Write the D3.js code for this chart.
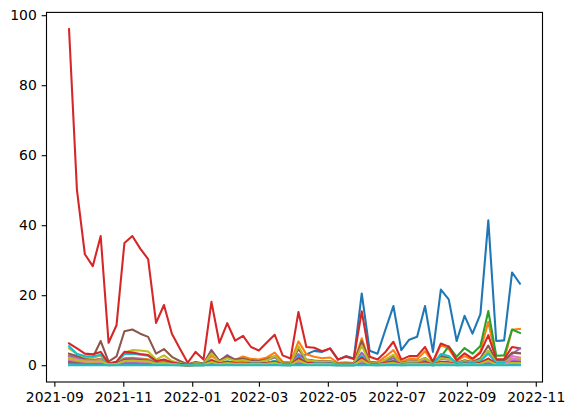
<!DOCTYPE html>
<html>
<head>
<meta charset="utf-8">
<script src="https://cdn.jsdelivr.net/npm/d3@7"></script>
<style>
  body { margin: 0; background: #fff; }
  svg { display: block; font-family: 'DejaVu Sans', sans-serif; }
</style>
</head>
<body>
<svg id="chart" width="574" height="416"></svg>
<script>
// weekly observations (Tuesdays), first one on 2021-09-14
const startDate = '2021-09-14';
const weeks = 58;

const s01 = [1.0,0.8,0.6,0.5,0.7,0.2,0.4,1.5,1.8,1.6,1.4,0.6,0.8,0.5,0.3,0.1,0.4,0.2,1.2,0.5,0.9,0.6,0.7,0.5,0.4,0.6,1.2,0.4,0.3,2.2,3.1,4.1,3.8,4.8,1.6,2.6,1.9,20.5,4.1,3.3,10.2,16.9,4.3,7.3,8.1,16.9,3.8,21.6,18.8,6.9,14.1,9.0,14.6,41.4,6.9,7.1,26.5,23.3];
const s02 = [2.8,2.2,1.6,1.5,1.8,0.3,0.6,2.0,2.1,1.9,1.7,0.7,1.1,0.6,0.3,0.1,0.5,0.3,2.6,1.2,2.2,1.6,2.5,1.8,1.6,2.2,3.6,1.0,0.8,6.8,3.1,2.4,2.0,2.2,0.7,0.8,0.6,7.7,1.0,0.8,2.5,4.3,0.9,1.8,1.7,4.0,0.7,5.9,4.6,1.2,2.6,1.5,4.0,12.4,1.6,1.5,10.1,10.4];
const s03 = [0.8,0.6,0.4,0.4,0.6,0.1,0.2,0.7,0.8,0.7,0.6,0.3,0.4,0.2,0.1,0.0,0.1,0.1,0.6,0.2,0.4,0.3,0.3,0.2,0.2,0.3,0.5,0.1,0.1,1.0,0.4,0.3,0.3,0.3,0.1,0.2,0.1,1.1,0.2,0.2,0.4,0.8,0.2,0.3,0.3,0.6,1.0,2.4,5.4,2.4,4.9,3.3,5.5,15.5,2.7,2.8,10.2,9.2];
const s04 = [96.0,50.0,31.7,28.3,36.9,6.4,11.4,34.9,36.9,33.3,30.3,12.1,17.2,9.0,4.8,0.7,3.8,1.6,18.1,6.4,12.0,7.0,8.4,5.2,4.2,6.5,8.7,2.8,1.9,15.2,5.2,5.0,4.0,4.8,1.6,2.4,1.8,15.4,2.4,1.6,3.8,6.7,1.6,2.6,2.6,5.2,1.0,6.2,5.3,1.4,3.4,1.9,3.5,8.6,1.7,1.7,5.2,4.8];
const s05 = [2.6,2.0,1.5,1.4,1.7,0.3,0.5,1.8,1.9,1.7,1.5,0.6,0.9,0.5,0.3,0.1,0.6,0.3,4.4,1.1,2.9,1.5,1.6,1.1,1.0,1.4,2.2,0.6,0.5,3.2,1.4,1.1,0.9,1.0,0.3,0.4,0.4,3.6,0.6,0.5,1.2,2.0,0.4,0.8,0.8,1.6,0.3,1.8,1.6,0.5,1.1,0.7,1.4,3.6,0.8,0.8,3.2,4.8];
const s06 = [3.3,2.6,2.0,2.2,6.9,1.0,2.5,9.7,10.2,9.0,8.1,3.3,4.6,2.4,1.2,0.3,0.9,0.5,4.1,1.3,2.6,1.6,1.9,1.3,1.2,1.7,2.6,0.7,0.6,4.6,1.6,1.3,1.1,1.2,0.4,0.5,0.4,6.9,0.8,0.6,1.6,2.7,0.6,1.1,1.1,2.1,0.4,2.5,2.2,0.6,1.4,0.9,2.0,5.6,1.2,1.2,3.6,3.4];
const s07 = [2.2,1.7,1.3,1.2,1.5,0.2,0.4,1.6,1.7,1.5,1.3,0.5,0.8,0.4,0.2,0.1,0.3,0.2,1.2,0.4,0.8,0.5,0.6,0.4,0.4,0.5,0.9,0.2,0.2,1.8,0.6,0.5,0.4,0.5,0.2,0.2,0.2,1.9,0.3,0.2,0.6,1.0,0.2,0.4,0.4,0.8,0.1,0.9,0.8,0.2,0.5,0.3,0.7,1.8,0.4,0.4,2.6,2.2];
const s08 = [1.8,1.4,1.0,1.0,1.2,0.2,0.3,1.3,1.4,1.2,1.1,0.4,0.6,0.3,0.2,0.0,0.2,0.1,1.0,0.3,0.6,0.4,0.5,0.3,0.3,0.4,0.8,0.2,0.1,1.5,0.5,0.4,0.3,0.4,0.1,0.2,0.1,1.6,0.2,0.2,0.5,0.8,0.2,0.3,0.3,0.6,0.1,0.7,0.6,0.2,0.4,0.2,0.6,1.5,0.3,0.3,1.2,1.0];
const s09 = [4.8,3.2,2.3,2.1,2.8,0.4,1.0,3.6,4.3,4.2,3.9,1.6,2.8,1.2,0.6,0.1,0.6,0.3,3.4,0.9,2.0,1.2,1.5,1.0,0.9,1.4,2.6,0.5,0.5,5.4,1.5,1.2,1.0,1.1,0.3,0.4,0.3,5.6,0.6,0.5,1.6,3.0,0.5,1.0,1.0,2.0,0.3,2.0,1.7,0.5,1.2,0.7,1.5,4.2,0.8,0.8,2.0,1.8];
const s10 = [5.4,3.2,2.6,2.5,3.0,0.4,0.7,3.2,3.3,3.0,2.7,1.0,1.5,0.8,0.4,0.1,0.4,0.2,1.6,0.5,1.1,0.7,0.8,0.6,0.5,0.7,1.2,0.3,0.2,2.4,0.8,0.6,0.5,0.6,0.2,0.3,0.2,2.6,0.4,0.3,0.8,1.3,0.3,0.5,0.5,1.0,0.2,3.2,2.6,0.4,1.0,0.6,1.2,3.3,0.6,0.6,1.6,1.4];
const s11 = [1.4,1.1,0.8,0.8,0.9,0.1,0.3,1.0,1.1,1.0,0.9,0.3,0.5,0.3,0.1,0.0,0.2,0.1,0.8,0.2,0.5,0.3,0.4,0.3,0.3,0.4,0.6,0.1,0.1,1.2,0.4,0.3,0.3,0.3,0.1,0.1,0.1,1.3,0.2,0.1,0.4,0.6,0.1,0.3,0.3,0.5,0.1,0.5,0.4,0.1,0.3,0.2,0.4,1.1,0.2,0.2,0.7,0.6];
const s12 = [0.9,0.7,0.5,0.5,0.6,0.1,0.2,0.7,0.7,0.6,0.6,0.2,0.3,0.2,0.1,0.0,0.1,0.1,0.5,0.1,0.3,0.2,0.3,0.2,0.2,0.3,0.4,0.1,0.1,0.9,0.3,0.2,0.2,0.2,0.1,0.1,0.1,0.9,0.1,0.1,0.3,0.5,0.1,0.2,0.2,0.4,0.1,0.4,0.3,0.1,0.2,0.1,0.3,0.9,0.1,0.1,0.5,0.5];
const s13 = [0.6,0.5,0.4,0.4,0.4,0.1,0.1,0.5,0.5,0.4,0.4,0.1,0.2,0.1,0.1,0.0,0.1,0.0,0.3,0.1,0.2,0.1,0.2,0.1,0.1,0.2,0.3,0.1,0.0,0.6,0.2,0.1,0.1,0.1,0.0,0.1,0.0,0.6,0.1,0.1,0.2,0.3,0.1,0.1,0.1,0.3,0.0,0.3,0.2,0.1,0.2,0.1,0.2,0.6,0.1,0.1,0.4,0.3];
const s14 = [6.2,4.8,3.3,3.1,3.8,0.5,1.0,3.8,3.6,3.2,2.9,1.2,1.6,0.8,0.4,0.1,0.4,0.2,1.4,0.5,1.0,0.6,0.7,0.5,0.4,0.6,1.0,0.2,0.2,2.0,0.7,0.5,0.4,0.5,0.2,0.2,0.2,2.2,0.3,0.3,0.7,1.1,0.3,0.4,0.4,0.9,0.1,1.0,0.8,0.2,0.5,0.3,0.7,1.9,0.3,0.3,1.0,0.9];
const s15 = [1.1,0.9,0.7,0.6,0.8,0.1,0.2,0.8,0.9,0.8,0.7,0.3,0.4,0.2,0.1,0.0,0.2,0.1,0.7,0.2,0.4,0.3,0.3,0.2,0.2,0.3,0.5,0.1,0.1,1.0,0.3,0.3,0.2,0.2,0.1,0.1,0.1,1.2,0.1,0.1,0.3,0.5,0.1,0.2,0.2,0.4,0.1,0.4,0.4,0.1,0.3,0.2,0.3,1.0,0.2,0.2,1.6,1.4];
const s16 = [0.8,0.6,0.5,0.5,1.2,0.1,0.4,1.6,1.7,1.5,1.3,0.5,0.7,0.4,0.2,0.0,0.1,0.1,0.6,0.2,0.4,0.2,0.3,0.2,0.2,0.3,0.4,0.1,0.1,0.8,0.3,0.2,0.2,0.2,0.1,0.1,0.1,1.0,0.1,0.1,0.3,0.4,0.1,0.2,0.2,0.3,0.1,0.3,0.3,0.1,0.2,0.1,0.3,0.8,0.1,0.1,0.4,0.4];
const s17 = [1.6,1.2,0.9,0.9,1.0,0.2,0.3,1.1,1.2,1.0,0.9,0.3,0.5,0.3,0.1,0.0,0.2,0.1,0.6,0.2,0.4,0.2,0.3,0.2,0.2,0.3,0.4,0.1,0.1,0.8,0.3,0.2,0.2,0.2,0.1,0.1,0.1,0.9,0.1,0.1,0.3,0.4,0.1,0.2,0.2,0.3,0.1,0.4,0.3,0.1,0.2,0.1,0.3,0.8,0.2,0.2,1.8,1.5];
const s18 = [0.5,0.4,0.3,0.3,0.3,0.0,0.1,0.4,0.4,0.3,0.3,0.1,0.2,0.1,0.0,0.0,0.1,0.0,0.3,0.1,0.2,0.1,0.1,0.1,0.1,0.1,0.2,0.0,0.0,0.4,0.1,0.1,0.1,0.1,0.0,0.0,0.0,0.5,0.1,0.0,0.1,0.2,0.0,0.1,0.1,0.2,0.0,0.2,0.2,0.0,0.1,0.1,0.1,0.5,0.1,0.1,0.3,0.3];
const s19 = [1.9,1.5,1.1,1.0,1.2,0.2,0.3,1.2,1.3,1.2,1.1,0.4,0.6,0.3,0.1,0.0,0.2,0.1,0.9,0.3,0.6,0.4,0.5,0.3,0.3,0.4,0.7,0.1,0.1,1.4,0.4,0.3,0.3,0.3,0.1,0.1,0.1,1.5,0.2,0.1,0.4,0.7,0.1,0.3,0.3,0.5,0.1,0.6,0.5,0.1,0.3,0.2,0.4,1.3,0.2,0.2,0.7,0.6];
const s20 = [0,0,0,0,0,0,0,0,0,0,0,0,0,0,0,0,0,0,0,0,0,0,0,0,0,0,0,0,0,0,0,0,0,0,0,0,0,0,0,0,0,0,0,0,0,0,0,0,0,0,0,0,0,0,0,0,0,0];

const series = [s01, s02, s03, s04, s05, s06, s07, s08, s09, s10,
                s11, s12, s13, s14, s15, s16, s17, s18, s19, s20];
const yTicks = [0, 20, 40, 60, 80, 100];

(function() {
  const start = d3.timeParse('%Y-%m-%d')(startDate);
  const dates = d3.timeTuesday.range(start, d3.timeWeek.offset(start, weeks));

  // matplotlib-ish geometry
  const left = 46.5, right = 542.5, top = 12.4, bottom = 382;
  const svg = d3.select('#chart');

  const xExt = d3.extent(dates);
  const xPad = (xExt[1] - xExt[0]) * 0.05;
  const x = d3.scaleTime()
    .domain([new Date(+xExt[0] - xPad), new Date(+xExt[1] + xPad)])
    .range([left, right]);

  const yMax = d3.max(series, s => d3.max(s));
  const yMin = d3.min(series, s => d3.min(s));
  const yPad = (yMax - yMin) * 0.05;
  const y = d3.scaleLinear()
    .domain([yMin - yPad, yMax + yPad])
    .range([bottom, top]);

  const line = d3.line()
    .x((d, i) => x(dates[i]))
    .y(d => y(d));

  svg.append('g')
    .selectAll('path')
    .data(series)
    .enter()
    .append('path')
    .attr('fill', 'none')
    .attr('stroke', (d, i) => d3.schemeCategory10[i % 10])
    .attr('stroke-width', 2.08)
    .attr('stroke-linejoin', 'round')
    .attr('stroke-linecap', 'square')
    .attr('d', line);

  const xAxis = d3.axisBottom(x)
    .ticks(d3.timeMonth.every(2))
    .tickFormat(d3.timeFormat('%Y-%m'))
    .tickSizeInner(4.86)
    .tickSizeOuter(0)
    .tickPadding(4.86);
  const yAxis = d3.axisLeft(y)
    .tickValues(yTicks)
    .tickSizeInner(4.86)
    .tickSizeOuter(0)
    .tickPadding(4.86);

  const gx = svg.append('g').attr('transform', `translate(0,${bottom})`).call(xAxis);
  const gy = svg.append('g').attr('transform', `translate(${left},0)`).call(yAxis);

  [gx, gy].forEach(g => {
    g.select('.domain').remove();
    g.selectAll('.tick line').attr('stroke', '#000').attr('stroke-width', 1.1);
    g.selectAll('.tick text').attr('fill', '#000').attr('font-size', '13.9px')
      .attr('font-family', "'DejaVu Sans', sans-serif");
  });

  svg.append('rect')
    .attr('x', left).attr('y', top)
    .attr('width', right - left).attr('height', bottom - top)
    .attr('fill', 'none')
    .attr('stroke', '#000')
    .attr('stroke-width', 1.1);
})();
</script>
</body>
</html>
